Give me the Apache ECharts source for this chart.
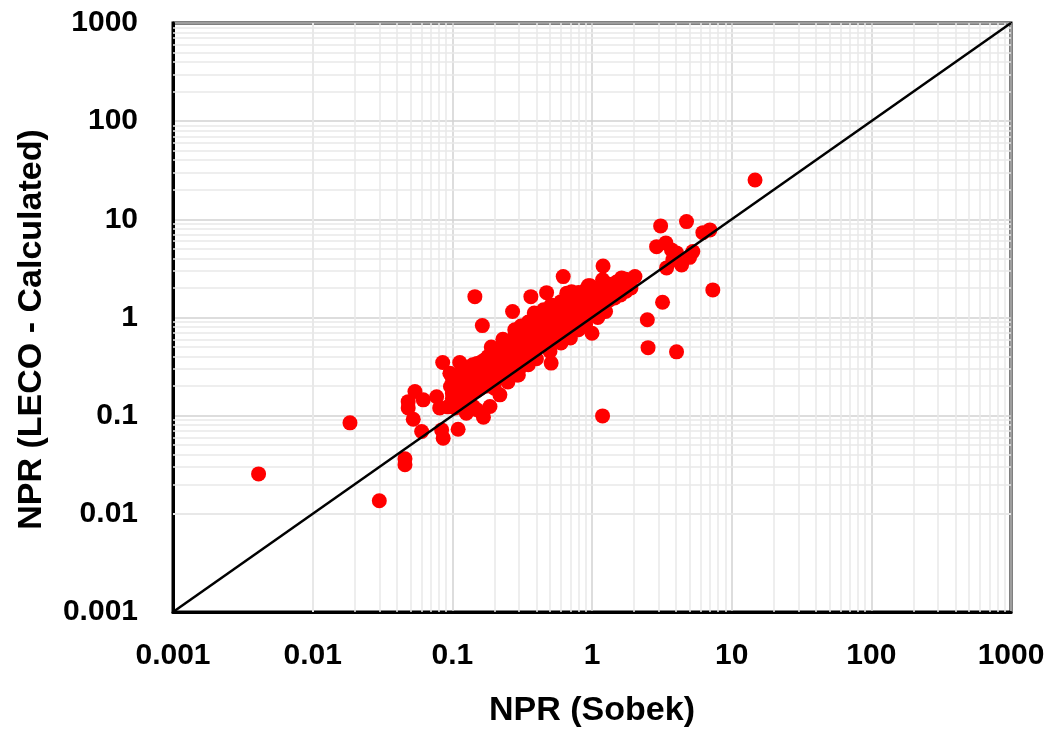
<!DOCTYPE html>
<html>
<head>
<meta charset="utf-8">
<script src="https://cdn.jsdelivr.net/npm/echarts@6/dist/echarts.min.js"></script>
<style>
    html, body { margin: 0; padding: 0; background: #fff; }
    #chart { width: 1055px; height: 731px; }
</style>
</head>
<body>
<div id="chart"></div>
<script>
// axis decades and the 1:1 reference line
const decades = [0.001, 0.01, 0.1, 1, 10, 100, 1000];
const minorSteps = [2, 3, 4, 5, 6, 7, 8, 9];
const oneToOne = [0.001, 1000];

// [NPR Sobek, NPR LECO]
const lowPoints = [
    [0.0041, 0.0255], [0.0185, 0.0845], [0.030, 0.0136], [0.0458, 0.0363], [0.0458, 0.0316],
    [0.0483, 0.139], [0.0483, 0.12], [0.054, 0.176], [0.0619, 0.145], [0.0772, 0.156],
    [0.0812, 0.12], [0.093, 0.123], [0.0525, 0.092], [0.0603, 0.0689], [0.0838, 0.0716],
    [0.110, 0.0726], [0.086, 0.059], [0.167, 0.0966], [0.141, 0.124], [0.186, 0.124],
    [0.219, 0.163], [0.29, 0.26], [0.0853, 0.348], [0.113, 0.348], [0.097, 0.198],
    [0.107, 0.145], [0.126, 0.106], [0.15, 0.115], [0.096, 0.27]
];

const corePoints = [
    [0.10, 0.13], [0.10, 0.17], [0.10, 0.21], [0.10, 0.24], [0.10, 0.15],
    [0.105, 0.19], [0.105, 0.12], [0.105, 0.23],
    [0.11, 0.14], [0.11, 0.18], [0.11, 0.22], [0.11, 0.26], [0.11, 0.16], [0.11, 0.2],
    [0.115, 0.25], [0.115, 0.17], [0.115, 0.21], [0.115, 0.13],
    [0.12, 0.15], [0.12, 0.19], [0.12, 0.23], [0.12, 0.28], [0.12, 0.17], [0.12, 0.21], [0.12, 0.26],
    [0.125, 0.2], [0.125, 0.24], [0.125, 0.16], [0.125, 0.3],
    [0.13, 0.17], [0.13, 0.22], [0.13, 0.26], [0.13, 0.19], [0.13, 0.29], [0.13, 0.14],
    [0.135, 0.21], [0.135, 0.25], [0.135, 0.18], [0.135, 0.31],
    [0.14, 0.2], [0.14, 0.24], [0.14, 0.28], [0.14, 0.17], [0.14, 0.33], [0.14, 0.22],
    [0.145, 0.26], [0.145, 0.19], [0.145, 0.3], [0.145, 0.23],
    [0.15, 0.21], [0.15, 0.25], [0.15, 0.29], [0.15, 0.18], [0.15, 0.34], [0.15, 0.23], [0.15, 0.27],
    [0.155, 0.24], [0.155, 0.31], [0.155, 0.2], [0.155, 0.28],
    [0.16, 0.22], [0.16, 0.26], [0.16, 0.3], [0.16, 0.35], [0.16, 0.19], [0.16, 0.28], [0.16, 0.24],
    [0.17, 0.24], [0.17, 0.28], [0.17, 0.33], [0.17, 0.21], [0.17, 0.37], [0.17, 0.26], [0.17, 0.3],
    [0.175, 0.27], [0.175, 0.32], [0.175, 0.2],
    [0.18, 0.25], [0.18, 0.3], [0.18, 0.35], [0.18, 0.22], [0.18, 0.4], [0.18, 0.28], [0.18, 0.33],
    [0.19, 0.27], [0.19, 0.32], [0.19, 0.37], [0.19, 0.23], [0.19, 0.42], [0.19, 0.3], [0.19, 0.34],
    [0.2, 0.28], [0.2, 0.33], [0.2, 0.38], [0.2, 0.25], [0.2, 0.44], [0.2, 0.22], [0.2, 0.31], [0.2, 0.36],
    [0.21, 0.3], [0.21, 0.35], [0.21, 0.41], [0.21, 0.27], [0.21, 0.46], [0.21, 0.33],
    [0.22, 0.31], [0.22, 0.36], [0.22, 0.43], [0.22, 0.26], [0.22, 0.48], [0.22, 0.34], [0.22, 0.39],
    [0.23, 0.33], [0.23, 0.38], [0.23, 0.45], [0.23, 0.29], [0.23, 0.51], [0.23, 0.41],
    [0.24, 0.34], [0.24, 0.4], [0.24, 0.47], [0.24, 0.3], [0.24, 0.53], [0.24, 0.37], [0.24, 0.43],
    [0.25, 0.36], [0.25, 0.42], [0.25, 0.49], [0.25, 0.31], [0.25, 0.56], [0.25, 0.39], [0.25, 0.45],
    [0.26, 0.37], [0.26, 0.44], [0.26, 0.52], [0.26, 0.33], [0.26, 0.58], [0.26, 0.41],
    [0.27, 0.39], [0.27, 0.46], [0.27, 0.54], [0.27, 0.35], [0.27, 0.6], [0.27, 0.43], [0.27, 0.5],
    [0.28, 0.41], [0.28, 0.48], [0.28, 0.56], [0.28, 0.36], [0.28, 0.63], [0.28, 0.45],
    [0.3, 0.43], [0.3, 0.5], [0.3, 0.59], [0.3, 0.38], [0.3, 0.66], [0.3, 0.47], [0.3, 0.55],
    [0.32, 0.45], [0.32, 0.53], [0.32, 0.62], [0.32, 0.4], [0.32, 0.7], [0.32, 0.49], [0.32, 0.58],
    [0.34, 0.48], [0.34, 0.56], [0.34, 0.66], [0.34, 0.42], [0.34, 0.74], [0.34, 0.52], [0.34, 0.61],
    [0.36, 0.51], [0.36, 0.6], [0.36, 0.69], [0.36, 0.45], [0.36, 0.78], [0.36, 0.55], [0.36, 0.64],
    [0.38, 0.53], [0.38, 0.63], [0.38, 0.73], [0.38, 0.47], [0.38, 0.82], [0.38, 0.58], [0.38, 0.68],
    [0.4, 0.56], [0.4, 0.66], [0.4, 0.77], [0.4, 0.5], [0.4, 0.86], [0.4, 0.61], [0.4, 0.71],
    [0.43, 0.6], [0.43, 0.7], [0.43, 0.82], [0.43, 0.53], [0.43, 0.92], [0.43, 0.65], [0.43, 0.76],
    [0.46, 0.63], [0.46, 0.75], [0.46, 0.87], [0.46, 0.56], [0.46, 0.97], [0.46, 0.69], [0.46, 0.81],
    [0.5, 0.67], [0.5, 0.8], [0.5, 0.93], [0.5, 0.6], [0.5, 1.04], [0.5, 0.74], [0.5, 0.86],
    [0.54, 0.72], [0.54, 0.85], [0.54, 0.99], [0.54, 0.64], [0.54, 1.1], [0.54, 0.79], [0.54, 0.92],
    [0.58, 0.77], [0.58, 0.91], [0.58, 1.05], [0.58, 0.68], [0.58, 1.17], [0.58, 0.84],
    [0.62, 0.82], [0.62, 0.97], [0.62, 1.12], [0.62, 0.72], [0.62, 1.25], [0.62, 0.9],
    [0.67, 0.87], [0.67, 1.03], [0.67, 1.19], [0.67, 0.77], [0.67, 1.32], [0.67, 0.95],
    [0.72, 0.93], [0.72, 1.09], [0.72, 1.26], [0.72, 0.82], [0.72, 1.4], [0.72, 1.0],
    [0.78, 0.99], [0.78, 1.16], [0.78, 1.34], [0.78, 0.87], [0.78, 1.47],
    [0.84, 1.05], [0.84, 1.23], [0.84, 1.42], [0.84, 0.93], [0.84, 1.55],
    [0.9, 1.11], [0.9, 1.3], [0.9, 1.5], [0.9, 0.98],
    [0.97, 1.18], [0.97, 1.38], [0.97, 1.58], [0.97, 1.05],
    [1.05, 1.25], [1.05, 1.46], [1.05, 1.66],
    [1.13, 1.32], [1.13, 1.54], [1.13, 1.74],
    [1.22, 1.4], [1.22, 1.62], [1.32, 1.49], [1.32, 1.7],
    [1.45, 1.58], [1.45, 1.8], [1.6, 1.7], [1.75, 1.85], [1.9, 2.0]
];

// looser points round the band, above and just under the 1:1 line
const spreadPoints = [
    [0.35, 0.9], [0.42, 1.0], [0.45, 1.2], [0.55, 1.3], [0.6, 1.45], [0.7, 1.6],
    [0.8, 1.8], [0.9, 1.9], [1.1, 2.0], [1.3, 2.2], [1.5, 2.3], [1.75, 2.45],
    [0.25, 0.22], [0.3, 0.3], [0.35, 0.33], [0.4, 0.38], [0.5, 0.45], [0.6, 0.55],
    [0.7, 0.62], [0.8, 0.75], [0.9, 0.85], [1.1, 1.0], [1.25, 1.15], [0.2, 0.19],
    [0.28, 0.75], [0.23, 0.6], [0.19, 0.5], [0.31, 0.82]
];

const highPoints = [
    [14.7, 25.2], [7.33, 1.91], [4.03, 0.447], [2.52, 0.493], [2.49, 0.95], [3.2, 1.43],
    [1.19, 0.0995], [0.145, 1.63], [0.164, 0.827], [3.10, 8.57], [4.75, 9.48], [6.22, 7.32],
    [6.98, 7.8], [2.9, 5.27], [3.38, 5.75], [3.71, 4.88], [4.03, 4.55], [5.27, 4.69],
    [3.42, 3.2], [4.38, 3.43], [3.79, 3.86], [5.0, 4.1], [1.2, 3.35], [1.63, 2.53],
    [2.03, 2.61], [0.622, 2.61], [0.473, 1.79], [0.714, 1.83], [0.94, 2.1], [1.19, 2.42],
    [0.365, 1.63], [0.386, 1.11], [0.27, 1.15], [0.51, 0.343], [0.297, 0.26], [1.0, 0.69],
    [0.51, 1.34], [0.66, 1.77], [0.97, 2.1], [0.734, 1.77]
];

const fontFamily = '"Liberation Sans", Arial, sans-serif';

// minor grid lines at 2..9 inside every decade
let minorLines = [];
for (let i = 0; i < decades.length - 1; i++) {
    minorSteps.forEach(function (k) {
        minorLines.push({xAxis: k * decades[i]});
        minorLines.push({yAxis: k * decades[i]});
    });
}

function tickText(v) {
    return String(+Number(v).toPrecision(1));
}

function logAxis(name, nameGap, labelMargin, namePadding) {
    return {
        type: 'log',
        logBase: 10,
        min: decades[0],
        max: decades[decades.length - 1],
        splitNumber: 6,
        name: name,
        nameLocation: 'middle',
        nameGap: nameGap,
        nameTextStyle: {
            fontFamily: fontFamily,
            fontSize: 34,
            fontWeight: 'bold',
            color: '#000',
            padding: namePadding
        },
        axisLine: {show: true, lineStyle: {color: '#000', width: 3}},
        axisTick: {show: false},
        axisLabel: {
            fontFamily: fontFamily,
            fontSize: 30,
            fontWeight: 'bold',
            color: '#000',
            margin: labelMargin,
            formatter: tickText
        },
        splitLine: {show: true, lineStyle: {color: '#d2d2d2', width: 1.5}}
    };
}

const chart = echarts.init(document.getElementById('chart'));

const option = {
    animation: false,
    backgroundColor: '#fff',
    grid: {
        left: 173,
        right: 44,
        top: 23,
        bottom: 119,
        show: true,
        borderColor: '#000',
        borderWidth: 3,
        containLabel: false,
        outerBoundsMode: 'none'
    },
    xAxis: logAxis('NPR (Sobek)', 82, 29, 0),
    yAxis: logAxis('NPR (LECO - Calculated)', 124, 35, [0, 24, 0, 0]),
    series: [
        {
            type: 'line',
            data: [],
            z: 1,
            silent: true,
            markLine: {
                silent: true,
                z: 1,
                symbol: ['none', 'none'],
                label: {show: false},
                lineStyle: {color: '#e9e9e9', width: 1.5, type: 'solid'},
                emphasis: {disabled: true},
                data: minorLines
            }
        },
        {
            name: 'NPR',
            type: 'scatter',
            z: 3,
            symbolSize: 15,
            itemStyle: {color: '#ff0000', opacity: 1},
            data: lowPoints.concat(corePoints, spreadPoints, highPoints)
        },
        {
            name: '1:1',
            type: 'line',
            z: 6,
            showSymbol: false,
            lineStyle: {color: '#000', width: 2.5},
            data: [[oneToOne[0], oneToOne[0]], [oneToOne[1], oneToOne[1]]]
        }
    ]
};

chart.setOption(option);
</script>
</body>
</html>
